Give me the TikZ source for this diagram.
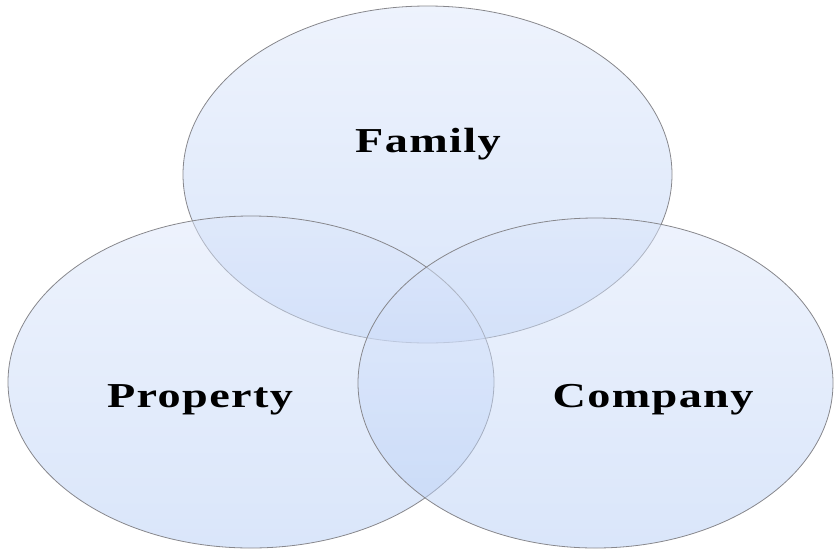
\documentclass[tikz,border=0pt]{standalone}
\usepackage{fontspec}
\newfontfamily\labfont[FakeStretch=1.32,LetterSpace=4]{Liberation Serif}
\usetikzlibrary{shapes.geometric}
\definecolor{shTop}{RGB}{221,231,251}
\definecolor{shBot}{RGB}{181,205,245}
\definecolor{rim}{RGB}{135,135,140}
\tikzset{
  setbox/.style={ellipse, inner sep=0pt, draw=rim, line width=0.8pt,
    top color=shTop, bottom color=shBot, fill opacity=0.5, draw opacity=1},
  setlabel/.style={font=\labfont\bfseries\fontsize{35}{38}\selectfont, text=black, inner sep=0pt}
}
\begin{document}
\begin{tikzpicture}[x=1pt,y=-1pt]
\useasboundingbox (0,0) rectangle (835,555);
\node[setbox, minimum width=489pt, minimum height=337pt] (fam) at (427.5,174.5) {};
\node[setbox, minimum width=486pt, minimum height=332pt] (prop) at (251,382) {};
\node[setbox, minimum width=475pt, minimum height=330pt] (comp) at (595.5,383) {};
\node[setlabel] (lfam) at (428,144) {Family};
\node[setlabel] (lprop) at (200,400) {Property};
\node[setlabel] (lcomp) at (653,400) {Company};
\end{tikzpicture}
\end{document}
